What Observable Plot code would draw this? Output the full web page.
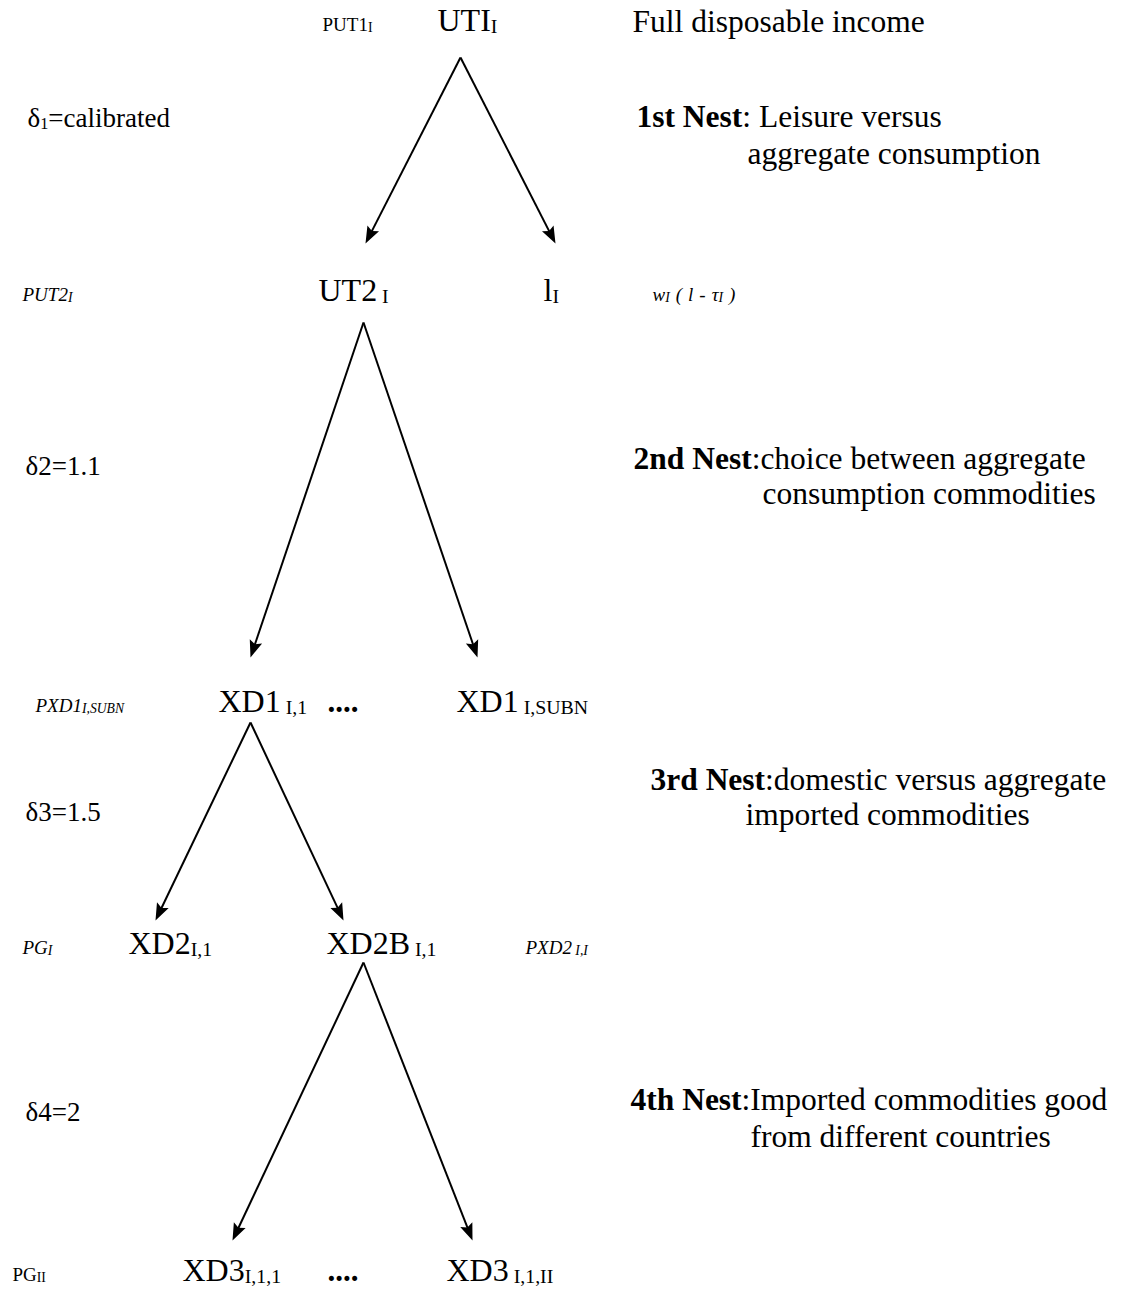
<!DOCTYPE html>
<html><head><meta charset="utf-8">
<script src="https://cdn.jsdelivr.net/npm/d3@7"></script>
<script src="https://cdn.jsdelivr.net/npm/@observablehq/plot@0.6"></script>
<style>html,body{margin:0;padding:0;background:#fff}</style>
</head><body><div id="chart"></div><script>
// ---- data ----
// rows of the nesting tree (baseline of each row)
const rowBaseline = [30, 300, 711, 953, 1280];
// tree nodes: main label, subscript, row, left edge
const nodeMain = ["UTI", "UT2", "l", "XD1", "XD1", "XD2", "XD2B", "XD3", "XD3"];
const nodeSub  = ["I", " I", "I", " I,1", " I,SUBN", "I,1", " I,1", "I,1,1", " I,1,II"];
const nodeRow  = [0, 1, 1, 2, 2, 3, 3, 4, 4];
const nodeLeft = [437, 318, 543, 218, 456, 128, 326, 182, 446];
// ellipsis markers
const dotsRow = [2, 4];
const dotsLeft = [327, 327];
// price labels: parts [text, kind] kind: n normal, i italic, s subscript, g gap (px)
const priceParts = [
  [["PUT1", "n"], ["I", "s"]],
  [["PUT2", "i"], ["I", "si"]],
  [["w", "i"], ["I", "si"], [6, "g"], ["(", "i"], [6, "g"], ["l", "i"], [6, "g"], ["-", "i"], [6, "g"], ["τ", "i"], ["I", "si"], [6, "g"], [")", "i"]],
  [["PXD1", "i"], ["I,SUBN", "si"]],
  [["PG", "i"], ["I", "si"]],
  [["PXD2", "i"], [" I,I", "si"]],
  [["PG", "n"], ["II", "s"]]
];
const priceRow  = [0, 1, 1, 2, 3, 3, 4];
const priceLeft = [322, 22, 652, 35, 22, 525, 12];
// elasticities of substitution
const elastParts = [
  [["δ", "n"], ["1", "s"], ["=calibrated", "n"]],
  [["δ2=1.1", "n"]],
  [["δ3=1.5", "n"]],
  [["δ4=2", "n"]]
];
const elastBaseline = [126, 474, 820, 1120];
const elastLeft = [27, 25, 25, 25];
// nest descriptions (first line, second line)
const nestParts = [
  [["Full disposable income", "n"]],
  [["1st Nest", "b"], [": Leisure versus", "n"]],
  [["aggregate consumption", "n"]],
  [["2nd Nest", "b"], [":choice between aggregate", "n"]],
  [["consumption commodities", "n"]],
  [["3rd Nest", "b"], [":domestic versus aggregate", "n"]],
  [["imported commodities", "n"]],
  [["4th Nest", "b"], [":Imported commodities good", "n"]],
  [["from different countries", "n"]]
];
const nestBaseline = [31, 126, 163, 468, 503, 789, 824, 1109, 1146];
const nestLeft = [632, 636, 747, 633, 762, 650, 745, 630, 750];
// arrows (from parent to child)
const arrowX1 = [460, 460, 363, 363, 250, 250, 363, 363];
const arrowY1 = [57, 57, 322, 322, 722, 722, 962, 962];
const arrowX2 = [365, 555, 250, 477, 155, 343, 232, 472];
const arrowY2 = [243, 243, 657, 657, 920, 920, 1240, 1240];

// ---- layout helpers ----
const W = 1127, H = 1289;
const FONT = "'Liberation Serif', 'Times New Roman', serif";
const ctx = document.createElement("canvas").getContext("2d");
function measure(t, size, style, weight) {
  ctx.font = `${style} ${weight} ${size}px ${FONT}`;
  return ctx.measureText(t).width;
}
function layout(x0, y0, size, parts, subRatio, segs) {
  let x = x0;
  for (const [t, kind] of parts) {
    if (kind === "g") { x += t; continue; }
    const sub = kind.includes("s");
    const s = sub ? size * subRatio : size;
    const style = kind.includes("i") ? "italic" : "normal";
    const weight = kind.includes("b") ? "bold" : "normal";
    const lead = t.match(/^\s*/)[0];
    const trimmed = t.trim();
    const y = sub ? y0 + size * 0.08 : y0;
    segs.push({text: trimmed, x: x + measure(lead, s, style, weight), y, size: s, style, weight});
    x += measure(t, s, style, weight);
  }
}
const segs = [];
nodeMain.forEach((m, i) => layout(nodeLeft[i], rowBaseline[nodeRow[i]], 32, [[m, "n"], [nodeSub[i], "s"]], 0.62, segs));
dotsRow.forEach((r, i) => layout(dotsLeft[i], rowBaseline[r], 31, [["....", "b"]], 1, segs));
priceParts.forEach((p, i) => layout(priceLeft[i], rowBaseline[priceRow[i]], 19, p, 0.72, segs));
elastParts.forEach((p, i) => layout(elastLeft[i], elastBaseline[i], 27, p, 0.6, segs));
nestParts.forEach((p, i) => layout(nestLeft[i], nestBaseline[i], 31.5, p, 0.6, segs));

const arrows = arrowX1.map((x1, i) => {
  const x2 = arrowX2[i], y1 = arrowY1[i], y2 = arrowY2[i];
  const dx = x2 - x1, dy = y2 - y1, len = Math.hypot(dx, dy);
  return {x1, y1, x2, y2, lx: x2 - dx / len * 10, ly: y2 - dy / len * 10,
          angle: Math.atan2(dx, -dy) * 180 / Math.PI};
});
const arrowHead = {
  draw(c) {
    c.moveTo(0, 0);
    c.lineTo(-6.5, 17);
    c.lineTo(0, 14);
    c.lineTo(6.5, 17);
    c.closePath();
  }
};

const textMarks = [];
for (const style of ["normal", "italic"]) for (const weight of ["normal", "bold"]) {
  const data = segs.filter(d => d.style === style && d.weight === weight);
  if (!data.length) continue;
  textMarks.push(Plot.text(data, {
    x: "x", y: "y", text: "text", fontSize: d => d.size,
    textAnchor: "start", lineAnchor: "bottom",
    fontFamily: FONT, fontStyle: style, fontWeight: weight, fill: "black"
  }));
}

const chart = Plot.plot({
  width: W, height: H, margin: 0,
  x: {domain: [0, W], range: [0, W], axis: null},
  y: {domain: [0, H], range: [0, H], axis: null},
  style: {background: "white"},
  marks: [
    Plot.link(arrows, {x1: "x1", y1: "y1", x2: "lx", y2: "ly", stroke: "black", strokeWidth: 2}),
    Plot.dot(arrows, {x: "x2", y: "y2", rotate: "angle", symbol: arrowHead, r: 5, fill: "black", stroke: "none"}),
    ...textMarks
  ]
});
document.getElementById("chart").appendChild(chart);
</script></body></html>
